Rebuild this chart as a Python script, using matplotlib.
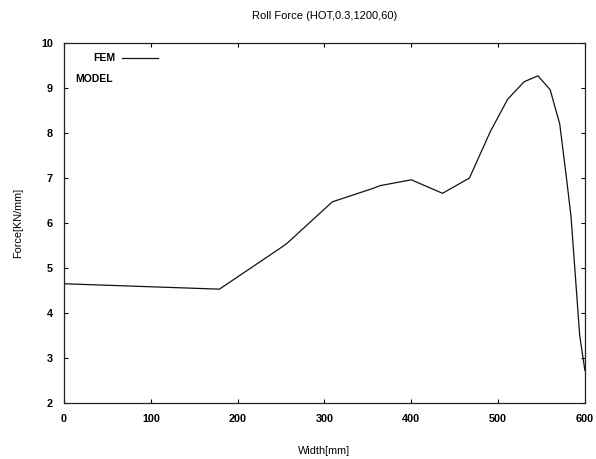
import numpy as np
import matplotlib.pyplot as plt
from matplotlib.lines import Line2D

# FEM roll force across the strip width
width_mm = [0, 179, 249, 257, 309, 356, 364, 400, 436, 467, 491, 511, 530, 546,
            560, 571, 579, 584, 594, 599, 600]
force_fem = [4.65, 4.53, 5.44, 5.55, 6.47, 6.77, 6.83, 6.96, 6.66, 7.0, 8.03, 8.75,
             9.14, 9.27, 8.96, 8.2, 6.96, 6.14, 3.5, 2.85, 2.72]

x_ticks = [0, 100, 200, 300, 400, 500, 600]
y_ticks = [2, 3, 4, 5, 6, 7, 8, 9, 10]

plt.rcParams['font.family'] = ['Liberation Sans', 'DejaVu Sans']

fig = plt.figure(figsize=(5.96, 4.59), dpi=100)
ax = fig.add_axes([0.1074, 0.122, 0.874, 0.7843])

ax.plot(width_mm, force_fem, color='#111111', lw=0.9)

ax.set_xlim(0, 600)
ax.set_ylim(2, 10)
ax.set_xticks(x_ticks)
ax.set_yticks(y_ticks)
ax.tick_params(direction='in', length=3, width=0.8, top=True, right=True,
               labelsize=7.8, pad=8)
for lab in ax.get_xticklabels() + ax.get_yticklabels():
    lab.set_fontweight('bold')
for sp in ax.spines.values():
    sp.set_linewidth(0.9)
    sp.set_color('#222222')

ax.set_title('Roll Force (HOT,0.3,1200,60)', fontsize=8, pad=17)
ax.set_xlabel('Width[mm]', fontsize=7.8, labelpad=16)
ax.set_ylabel('Force[KN/mm]', fontsize=7.8, labelpad=13)

# key
ax.text(0.098, 0.958, 'FEM', transform=ax.transAxes, ha='right', va='center',
        fontsize=7.5, fontweight='bold')
ax.add_line(Line2D([0.112, 0.18], [0.958, 0.958], transform=ax.transAxes,
                   color='#111111', lw=0.9))
ax.text(0.094, 0.9, 'MODEL', transform=ax.transAxes, ha='right', va='center',
        fontsize=7.5, fontweight='bold')

fig.savefig('out.png', dpi=100)
